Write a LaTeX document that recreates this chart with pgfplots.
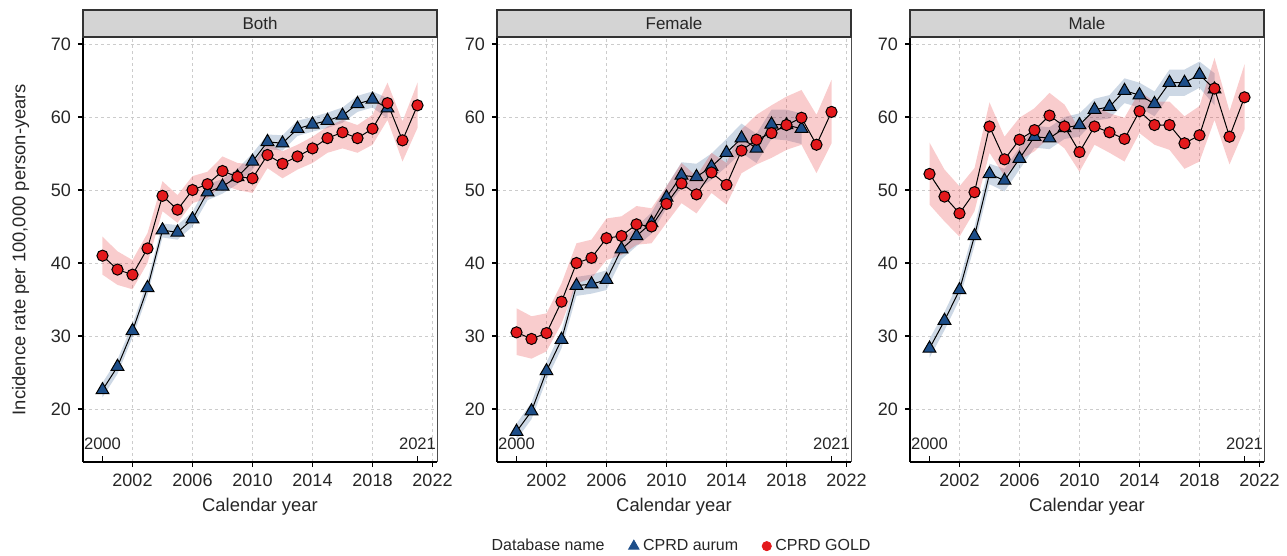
\documentclass[border=0pt]{standalone}
\usepackage{fontspec}
\setmainfont{Liberation Sans}
\usepackage{pgfplots}
\pgfplotsset{compat=1.18}
\usepackage{pgfplotstable}
\usepgfplotslibrary{fillbetween}

\definecolor{aurum}{HTML}{1D4E89}
\definecolor{gold}{HTML}{E3191C}
\definecolor{stripgray}{HTML}{D4D4D4}

% year, estimate, lower, upper
\pgfplotstableread{
year y lo hi
2000 22.6 21.6 23.6
2001 25.8 24.8 26.8
2002 30.7 29.8 31.6
2003 36.6 35.6 37.6
2004 44.5 43.5 45.4
2005 44.2 43.2 45.2
2006 46.0 45.0 47.0
2007 49.7 48.6 50.8
2008 50.5 49.5 51.5
2009 51.8 50.8 52.9
2010 53.9 52.8 55.0
2011 56.6 55.6 57.6
2012 56.4 55.4 57.5
2013 58.4 57.4 59.5
2014 59.0 58.0 60.0
2015 59.5 58.5 60.6
2016 60.2 59.2 61.3
2017 61.8 60.7 62.9
2018 62.4 61.3 63.5
2019 61.2 59.8 62.6
}\bothaur
\pgfplotstableread{
year y lo hi
2000 41.0 38.4 43.6
2001 39.1 37.0 41.6
2002 38.4 36.4 40.4
2003 42.0 40.0 44.1
2004 49.2 47.1 51.2
2005 47.3 45.5 49.3
2006 50.0 48.2 51.9
2007 50.8 48.9 52.5
2008 52.6 50.7 54.6
2009 51.8 50.0 53.7
2010 51.6 49.6 53.5
2011 54.8 53.0 56.4
2012 53.6 51.6 55.3
2013 54.6 52.8 56.2
2014 55.7 53.7 57.3
2015 57.1 55.1 58.7
2016 57.9 55.7 59.6
2017 57.1 55.1 58.9
2018 58.4 56.2 60.3
2019 61.9 59.6 64.7
2020 56.8 53.9 59.4
2021 61.6 58.5 64.7
}\bothgold
\pgfplotstableread{
year y lo hi
2000 16.9 15.8 18.0
2001 19.7 18.6 20.9
2002 25.2 24.0 26.4
2003 29.5 28.3 30.7
2004 36.9 35.5 38.1
2005 37.1 35.8 38.4
2006 37.7 36.3 39.0
2007 41.9 40.5 43.2
2008 43.7 42.3 45.0
2009 45.5 44.0 46.9
2010 49.0 47.5 50.5
2011 52.0 50.3 53.8
2012 51.8 50.0 53.6
2013 53.2 51.4 55.0
2014 55.1 53.2 57.0
2015 57.1 55.1 59.1
2016 55.7 53.7 57.7
2017 59.0 57.0 61.0
2018 58.9 56.8 61.0
2019 58.4 56.3 60.5
}\femaur
\pgfplotstableread{
year y lo hi
2000 30.5 27.4 33.8
2001 29.6 26.9 32.7
2002 30.4 27.9 33.1
2003 34.7 31.7 37.2
2004 40.0 37.2 42.7
2005 40.7 37.9 43.2
2006 43.4 40.4 46.1
2007 43.7 41.1 46.4
2008 45.3 42.5 47.8
2009 45.0 42.7 47.5
2010 48.1 45.5 50.5
2011 50.9 48.2 53.7
2012 49.4 46.8 51.9
2013 52.4 49.6 55.1
2014 50.7 48.0 53.7
2015 55.4 52.3 58.3
2016 56.9 53.5 60.3
2017 57.8 54.4 61.6
2018 58.9 55.5 62.8
2019 59.9 56.2 63.7
2020 56.2 52.3 60.3
2021 60.7 56.4 65.1
}\femgold
\pgfplotstableread{
year y lo hi
2000 28.3 27.0 29.6
2001 32.1 30.8 33.3
2002 36.3 35.0 37.6
2003 43.7 42.4 45.0
2004 52.2 50.8 53.6
2005 51.3 49.8 52.9
2006 54.3 52.8 55.8
2007 57.3 55.8 58.8
2008 57.1 55.6 58.6
2009 58.5 57.0 60.0
2010 58.9 57.3 60.5
2011 61.0 59.5 62.5
2012 61.4 59.8 63.0
2013 63.6 61.9 65.3
2014 63.0 61.3 64.7
2015 61.8 60.1 63.5
2016 64.7 62.9 66.5
2017 64.7 62.9 66.5
2018 65.8 64.0 67.6
2019 63.8 61.6 66.0
}\maleaur
\pgfplotstableread{
year y lo hi
2000 52.2 48.0 56.5
2001 49.1 45.7 52.8
2002 46.8 43.6 50.5
2003 49.7 47.1 53.0
2004 58.7 55.1 62.0
2005 54.2 51.9 57.3
2006 56.9 54.1 59.9
2007 58.2 55.3 61.2
2008 60.2 57.3 63.3
2009 58.7 55.7 61.7
2010 55.2 52.5 58.3
2011 58.7 56.2 61.5
2012 57.9 55.1 60.5
2013 57.0 53.9 59.9
2014 60.8 57.8 63.5
2015 58.9 56.2 62.1
2016 58.9 55.5 62.1
2017 56.4 52.9 60.1
2018 57.5 53.9 61.5
2019 63.9 59.6 68.1
2020 57.3 53.5 60.8
2021 62.7 58.3 67.2
}\malegold

\pgfplotsset{
  panel/.style={
    scale only axis, width=177pt, height=212.5pt,
    xmin=1998.7, xmax=2022.3, ymin=12.74, ymax=70.96,
    xtick={2002,2006,...,2022}, ytick={20,30,...,70},
    axis lines*=left, axis line style={-, line width=0.9pt, black},
    tick align=outside, major tick length=2.5pt,
    tick style={black, line width=0.6pt},
    grid=major, grid style={dash pattern=on 1.6pt off 1.4pt, gray!40, line width=0.4pt},
    xticklabel style={/pgf/number format/1000 sep=},
    /pgf/number format/assume math mode=true,
    tick label style={font=\fontsize{9}{10}\selectfont, text=black!85},
    label style={font=\fontsize{9.2}{11}\selectfont, text=black!85},
    xlabel={Calendar year}, xlabel style={yshift=3.5pt},
    ylabel style={yshift=4pt},
    extra x ticks={2000,2021}, extra x tick labels={},
    extra x tick style={grid=none, tick align=inside, major tick length=3pt},
    clip=false,
  },
  band/.style={draw=none, fill=#1, fill opacity=0.22},
}

% bands, lines, markers, frame and strip for one panel
\newcommand{\panelplots}[4]{%
  \addplot[name path=#4ah, draw=none, forget plot] table[x=year,y=hi]{#1};
  \addplot[name path=#4al, draw=none, forget plot] table[x=year,y=lo]{#1};
  \addplot[band=aurum, forget plot] fill between[of=#4ah and #4al];
  \addplot[name path=#4gh, draw=none, forget plot] table[x=year,y=hi]{#2};
  \addplot[name path=#4gl, draw=none, forget plot] table[x=year,y=lo]{#2};
  \addplot[band=gold, forget plot] fill between[of=#4gh and #4gl];
  \addplot[black, line width=0.5pt, forget plot] table[x=year,y=y]{#1};
  \addplot[black, line width=0.5pt, forget plot] table[x=year,y=y]{#2};
  \addplot[only marks, mark=triangle*, mark size=3.7pt, forget plot,
    mark options={fill=aurum, draw=black, line width=0.5pt}] table[x=year,y=y]{#1};
  \addplot[only marks, mark=*, mark size=2.8pt, forget plot,
    mark options={fill=gold, draw=black, line width=0.5pt}] table[x=year,y=y]{#2};
  \draw[gray!60!black, line width=0.5pt] (rel axis cs:1,0) -- (rel axis cs:1,1);
  \draw[fill=stripgray, draw=black!80, line width=0.7pt]
    (rel axis cs:0,1) rectangle ([yshift=13.5pt]rel axis cs:1,1);
  \node[font=\fontsize{8.5}{10}\selectfont, text=black!85]
    at ([yshift=6.75pt]rel axis cs:0.5,1) {#3};
  \node[font=\fontsize{8.3}{10}\selectfont, text=black!85] at (axis cs:2000,15.2) {2000};
  \node[font=\fontsize{8.3}{10}\selectfont, text=black!85] at (axis cs:2021,15.2) {2021};
}

\begin{document}
\begin{tikzpicture}
\begin{axis}[panel, at={(0pt,0pt)}, anchor=south west,
  ylabel={Incidence rate per 100,000 person-years}]
\panelplots{\bothaur}{\bothgold}{Both}{b}
\end{axis}

\begin{axis}[panel, at={(207pt,0pt)}, anchor=south west,
  legend style={at={(0.52,-0.198)}, anchor=center, draw=none, fill=none,
    legend columns=-1, font=\fontsize{8}{9}\selectfont, text=black!85,
    /tikz/every even column/.append style={column sep=10pt}},
  legend cell align=left]
\addlegendimage{empty legend}
\addlegendentry{Database name}
\addlegendimage{only marks, mark=triangle*, mark size=3pt, mark options={fill=aurum, draw=aurum}}
\addlegendentry{CPRD aurum}
\addlegendimage{only marks, mark=*, mark size=2.3pt, mark options={fill=gold, draw=gold}}
\addlegendentry{CPRD GOLD}
\panelplots{\femaur}{\femgold}{Female}{f}
\end{axis}

\begin{axis}[panel, at={(413.5pt,0pt)}, anchor=south west]
\panelplots{\maleaur}{\malegold}{Male}{m}
\end{axis}

\pgfresetboundingbox
\path[use as bounding box] (-41.5pt,-47pt) rectangle (602pt,231pt);
\end{tikzpicture}
\end{document}
